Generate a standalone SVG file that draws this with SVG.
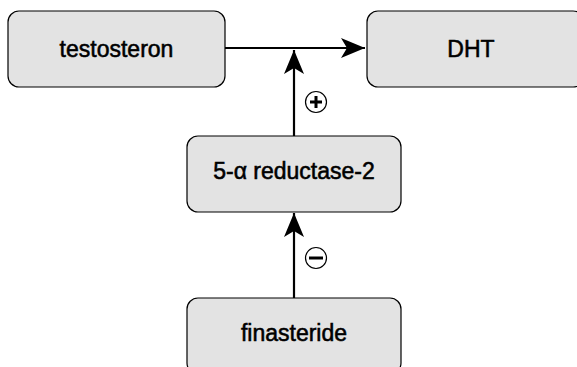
<svg xmlns="http://www.w3.org/2000/svg" width="577" height="367" viewBox="0 0 577 367">
<style>
.box{fill:#e3e3e3;stroke:#000;stroke-width:1.2}
.lbl{font-family:"Liberation Sans",Arial,sans-serif;font-size:23px;fill:#000;stroke:#000;stroke-width:0.55;text-anchor:middle}
.edge{stroke:#000;stroke-width:2.2;fill:none}
.sign{fill:#fff;stroke:#000;stroke-width:1.2}
.sym{stroke:#000;stroke-width:3;fill:none}
</style>
<defs>
<marker id="ah2" viewBox="0 0 24 20" refX="24" refY="10" markerWidth="24" markerHeight="20" markerUnits="userSpaceOnUse" orient="auto">
<path d="M0,0 L24,10 L0,20 L6,10 z" fill="#000"/>
</marker>
</defs>
<g id="connectors">
<path class="edge" d="M225,48 H365" marker-end="url(#ah2)"/>
<path class="edge" d="M294,136 V50" marker-end="url(#ah2)"/>
<path class="edge" d="M294,298 V213" marker-end="url(#ah2)"/>
<g id="plus"><circle class="sign" cx="316" cy="102" r="10.5"/><path class="sym" d="M310,102 H322 M316,96 V108"/></g>
<g id="minus"><circle class="sign" cx="316" cy="258" r="10.5"/><path class="sym" d="M309,258 H323"/></g>
</g>
<g id="testosteron"><rect class="box" x="8" y="11" width="217" height="76" rx="11"/><text class="lbl" x="116.5" y="57">testosteron</text></g>
<g id="dht"><rect class="box" x="367" y="11" width="217" height="76" rx="11"/><text class="lbl" x="471" y="57">DHT</text></g>
<g id="reductase"><rect class="box" x="187" y="136" width="214" height="76" rx="11"/><text class="lbl" x="294" y="179">5-α reductase-2</text></g>
<g id="finasteride"><rect class="box" x="187" y="298" width="214" height="76" rx="11"/><text class="lbl" x="294" y="341">finasteride</text></g>
</svg>
